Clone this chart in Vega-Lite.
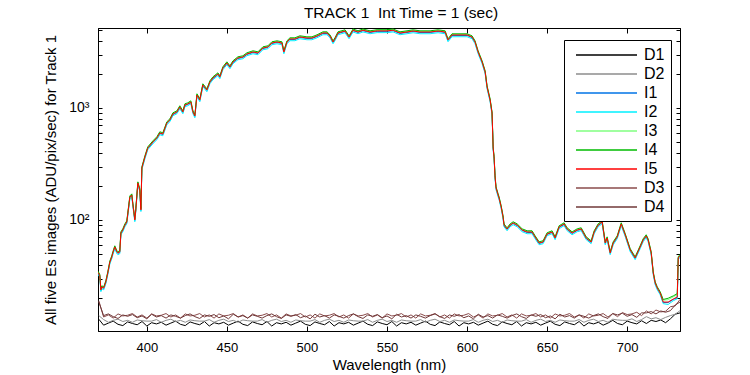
{
"$schema": "https://vega.github.io/schema/vega-lite/v6.json",
"width": 582, "height": 303,
"autosize": {"type": "none"},
"padding": {"left": 98, "top": 28, "right": 70, "bottom": 44},
"background": "white",
"title": {"text": "TRACK 1\u00a0 Int Time = 1 (sec)", "font": "Liberation Sans", "fontSize": 15.5, "fontWeight": "normal", "color": "black", "offset": 6, "dx": 12},
"config": {"view": {"stroke": "black", "strokeWidth": 1}, "font": "Liberation Sans"},
"datasets": {
"dark": [
{"w":370,"D1":13.0,"D2":14.0,"D3":19.0,"D4":18.5},
{"w":373,"D1":11.5,"D2":12.9,"D3":13.6,"D4":14.0},
{"w":376,"D1":12.0,"D2":12.2,"D3":14.2,"D4":14.5},
{"w":379,"D1":12.5,"D2":12.7,"D3":13.3,"D4":13.7},
{"w":382,"D1":11.7,"D2":13.0,"D3":14.5,"D4":13.2},
{"w":385,"D1":11.4,"D2":12.4,"D3":13.9,"D4":14.2},
{"w":388,"D1":12.3,"D2":12.7,"D3":14.1,"D4":13.8},
{"w":391,"D1":11.9,"D2":12.2,"D3":14.6,"D4":14.3},
{"w":394,"D1":11.6,"D2":12.8,"D3":13.6,"D4":13.4},
{"w":397,"D1":12.4,"D2":12.6,"D3":14.2,"D4":13.9},
{"w":400,"D1":11.3,"D2":12.5,"D3":13.3,"D4":13.1},
{"w":403,"D1":12.1,"D2":12.5,"D3":14.5,"D4":14.4},
{"w":406,"D1":11.8,"D2":12.9,"D3":13.9,"D4":13.6},
{"w":409,"D1":12.2,"D2":12.2,"D3":14.1,"D4":14.0},
{"w":412,"D1":11.5,"D2":12.7,"D3":14.6,"D4":13.3},
{"w":415,"D1":12.0,"D2":13.0,"D3":13.6,"D4":14.2},
{"w":418,"D1":12.5,"D2":12.4,"D3":14.2,"D4":13.8},
{"w":421,"D1":11.7,"D2":12.7,"D3":13.3,"D4":13.3},
{"w":424,"D1":11.4,"D2":12.2,"D3":14.5,"D4":14.0},
{"w":427,"D1":12.3,"D2":12.8,"D3":13.9,"D4":14.5},
{"w":430,"D1":11.9,"D2":12.6,"D3":14.1,"D4":13.7},
{"w":433,"D1":11.6,"D2":12.5,"D3":14.6,"D4":13.2},
{"w":436,"D1":12.4,"D2":12.5,"D3":13.6,"D4":14.2},
{"w":439,"D1":11.3,"D2":12.9,"D3":14.2,"D4":13.8},
{"w":442,"D1":12.1,"D2":12.2,"D3":13.3,"D4":14.3},
{"w":445,"D1":11.8,"D2":12.7,"D3":14.5,"D4":13.4},
{"w":448,"D1":12.2,"D2":13.0,"D3":13.9,"D4":13.9},
{"w":451,"D1":11.5,"D2":12.4,"D3":14.1,"D4":13.1},
{"w":454,"D1":12.0,"D2":12.7,"D3":14.6,"D4":14.4},
{"w":457,"D1":12.5,"D2":12.2,"D3":13.6,"D4":13.6},
{"w":460,"D1":11.7,"D2":12.8,"D3":14.2,"D4":14.0},
{"w":463,"D1":11.4,"D2":12.6,"D3":13.3,"D4":13.3},
{"w":466,"D1":12.3,"D2":12.5,"D3":14.5,"D4":14.2},
{"w":469,"D1":11.9,"D2":12.5,"D3":13.9,"D4":13.8},
{"w":472,"D1":11.6,"D2":12.9,"D3":14.1,"D4":13.3},
{"w":475,"D1":12.4,"D2":12.2,"D3":14.6,"D4":14.0},
{"w":478,"D1":11.3,"D2":12.7,"D3":13.6,"D4":14.5},
{"w":481,"D1":12.1,"D2":13.0,"D3":14.2,"D4":13.7},
{"w":484,"D1":11.8,"D2":12.4,"D3":13.3,"D4":13.2},
{"w":487,"D1":12.2,"D2":12.7,"D3":14.5,"D4":14.2},
{"w":490,"D1":11.5,"D2":12.2,"D3":13.9,"D4":13.8},
{"w":493,"D1":12.0,"D2":12.8,"D3":14.1,"D4":14.3},
{"w":496,"D1":12.5,"D2":12.6,"D3":14.6,"D4":13.4},
{"w":499,"D1":11.7,"D2":12.5,"D3":13.6,"D4":13.9},
{"w":502,"D1":11.4,"D2":12.5,"D3":14.2,"D4":13.1},
{"w":505,"D1":12.3,"D2":12.9,"D3":13.3,"D4":14.4},
{"w":508,"D1":11.9,"D2":12.2,"D3":14.5,"D4":13.6},
{"w":511,"D1":11.6,"D2":12.7,"D3":13.9,"D4":14.0},
{"w":514,"D1":12.4,"D2":13.0,"D3":14.1,"D4":13.3},
{"w":517,"D1":11.3,"D2":12.4,"D3":14.6,"D4":14.2},
{"w":520,"D1":12.1,"D2":12.7,"D3":13.6,"D4":13.8},
{"w":523,"D1":11.8,"D2":12.2,"D3":14.2,"D4":13.3},
{"w":526,"D1":12.2,"D2":12.8,"D3":13.3,"D4":14.0},
{"w":529,"D1":11.5,"D2":12.6,"D3":14.5,"D4":14.5},
{"w":532,"D1":12.0,"D2":12.5,"D3":13.9,"D4":13.7},
{"w":535,"D1":12.5,"D2":12.5,"D3":14.1,"D4":13.2},
{"w":538,"D1":11.7,"D2":12.9,"D3":14.6,"D4":14.2},
{"w":541,"D1":11.4,"D2":12.2,"D3":13.6,"D4":13.8},
{"w":544,"D1":12.3,"D2":12.7,"D3":14.2,"D4":14.3},
{"w":547,"D1":11.9,"D2":13.0,"D3":13.3,"D4":13.4},
{"w":550,"D1":11.6,"D2":12.4,"D3":14.5,"D4":13.9},
{"w":553,"D1":12.4,"D2":12.7,"D3":13.9,"D4":13.1},
{"w":556,"D1":11.3,"D2":12.2,"D3":14.1,"D4":14.4},
{"w":559,"D1":12.1,"D2":12.8,"D3":14.6,"D4":13.6},
{"w":562,"D1":11.8,"D2":12.6,"D3":13.6,"D4":14.0},
{"w":565,"D1":12.2,"D2":12.5,"D3":14.2,"D4":13.3},
{"w":568,"D1":11.5,"D2":12.5,"D3":13.3,"D4":14.2},
{"w":571,"D1":12.0,"D2":12.9,"D3":14.5,"D4":13.8},
{"w":574,"D1":12.5,"D2":12.2,"D3":13.9,"D4":13.3},
{"w":577,"D1":11.7,"D2":12.7,"D3":14.1,"D4":14.0},
{"w":580,"D1":11.4,"D2":13.0,"D3":14.6,"D4":14.5},
{"w":583,"D1":12.3,"D2":12.4,"D3":13.6,"D4":13.7},
{"w":586,"D1":11.9,"D2":12.7,"D3":14.2,"D4":13.2},
{"w":589,"D1":11.6,"D2":12.2,"D3":13.3,"D4":14.2},
{"w":592,"D1":12.4,"D2":12.8,"D3":14.5,"D4":13.8},
{"w":595,"D1":11.3,"D2":12.6,"D3":13.9,"D4":14.3},
{"w":598,"D1":12.1,"D2":12.5,"D3":14.1,"D4":13.4},
{"w":601,"D1":11.8,"D2":12.5,"D3":14.6,"D4":13.9},
{"w":604,"D1":12.2,"D2":12.9,"D3":13.6,"D4":13.1},
{"w":607,"D1":11.5,"D2":12.2,"D3":14.2,"D4":14.4},
{"w":610,"D1":12.0,"D2":12.7,"D3":13.3,"D4":13.6},
{"w":613,"D1":12.5,"D2":13.0,"D3":14.5,"D4":14.0},
{"w":616,"D1":11.7,"D2":12.4,"D3":13.9,"D4":13.3},
{"w":619,"D1":11.4,"D2":12.7,"D3":14.1,"D4":14.2},
{"w":622,"D1":12.3,"D2":12.2,"D3":14.6,"D4":13.8},
{"w":625,"D1":11.9,"D2":12.8,"D3":13.6,"D4":13.3},
{"w":628,"D1":11.6,"D2":12.6,"D3":14.2,"D4":14.0},
{"w":631,"D1":12.4,"D2":12.5,"D3":13.3,"D4":14.5},
{"w":634,"D1":11.3,"D2":12.5,"D3":14.5,"D4":13.7},
{"w":637,"D1":12.1,"D2":12.9,"D3":13.9,"D4":13.2},
{"w":640,"D1":11.8,"D2":12.2,"D3":14.1,"D4":14.2},
{"w":643,"D1":12.2,"D2":12.7,"D3":14.6,"D4":13.8},
{"w":646,"D1":11.5,"D2":13.0,"D3":13.6,"D4":14.3},
{"w":649,"D1":12.0,"D2":12.4,"D3":14.2,"D4":13.4},
{"w":652,"D1":12.5,"D2":12.7,"D3":13.3,"D4":13.9},
{"w":655,"D1":11.7,"D2":12.2,"D3":14.5,"D4":13.1},
{"w":658,"D1":11.4,"D2":12.8,"D3":13.9,"D4":14.4},
{"w":661,"D1":12.3,"D2":12.6,"D3":14.1,"D4":13.6},
{"w":664,"D1":11.9,"D2":12.5,"D3":14.6,"D4":14.0},
{"w":667,"D1":11.6,"D2":12.5,"D3":13.6,"D4":13.3},
{"w":670,"D1":12.4,"D2":12.9,"D3":14.2,"D4":14.2},
{"w":673,"D1":11.3,"D2":12.2,"D3":13.3,"D4":13.8},
{"w":676,"D1":12.1,"D2":12.7,"D3":14.5,"D4":13.3},
{"w":679,"D1":11.8,"D2":13.0,"D3":13.9,"D4":14.0},
{"w":682,"D1":12.2,"D2":12.4,"D3":14.1,"D4":14.5},
{"w":685,"D1":11.5,"D2":12.7,"D3":14.6,"D4":13.7},
{"w":688,"D1":12.0,"D2":12.2,"D3":13.6,"D4":13.2},
{"w":691,"D1":12.7,"D2":13.0,"D3":14.6,"D4":14.6},
{"w":694,"D1":11.9,"D2":12.8,"D3":13.7,"D4":14.2},
{"w":697,"D1":11.6,"D2":12.7,"D3":14.9,"D4":14.7},
{"w":700,"D1":12.5,"D2":12.7,"D3":14.3,"D4":13.8},
{"w":703,"D1":12.1,"D2":13.1,"D3":14.5,"D4":14.3},
{"w":706,"D1":11.8,"D2":12.4,"D3":15.0,"D4":13.5},
{"w":709,"D1":12.6,"D2":12.9,"D3":14.0,"D4":14.8},
{"w":712,"D1":11.9,"D2":13.7,"D3":15.4,"D4":14.8},
{"w":715,"D1":12.7,"D2":13.1,"D3":14.5,"D4":15.2},
{"w":718,"D1":12.4,"D2":13.4,"D3":15.7,"D4":14.5},
{"w":721,"D1":12.8,"D2":12.9,"D3":15.1,"D4":15.4},
{"w":724,"D1":12.1,"D2":13.5,"D3":15.3,"D4":15.0},
{"w":727,"D1":13.1,"D2":14.0,"D3":16.8,"D4":15.5},
{"w":730,"D1":14.4,"D2":14.4,"D3":17.1,"D4":17.4},
{"w":733,"D1":14.8,"D2":15.5,"D3":19.5,"D4":18.5}
],
"sig": [
{"w":369.5,"I1":33.7,"I2":32.8,"I3":34.3,"I4":34.9,"I5":34},
{"w":370.6,"I1":31.7,"I2":30.9,"I3":32.3,"I4":32.8,"I5":32},
{"w":371.3,"I1":23.5,"I2":22.9,"I3":23.9,"I4":24.3,"I5":23.7},
{"w":371.9,"I1":24.9,"I2":24.3,"I3":25.5,"I4":25.8,"I5":25.2},
{"w":373.1,"I1":24.5,"I2":23.8,"I3":24.9,"I4":25.3,"I5":24.7},
{"w":374.4,"I1":27.7,"I2":27.0,"I3":28.3,"I4":28.7,"I5":28},
{"w":375.6,"I1":33.3,"I2":32.4,"I3":33.9,"I4":34.4,"I5":33.6},
{"w":376.9,"I1":41.6,"I2":40.5,"I3":42.4,"I4":43.0,"I5":42},
{"w":378.1,"I1":46.2,"I2":45.1,"I3":47.2,"I4":47.9,"I5":46.7},
{"w":378.8,"I1":50.3,"I2":49.0,"I3":51.3,"I4":52.1,"I5":50.8},
{"w":380.0,"I1":56.8,"I2":55.4,"I3":58.0,"I4":58.8,"I5":57.4},
{"w":381.3,"I1":51.3,"I2":50.0,"I3":52.3,"I4":53.1,"I5":51.8},
{"w":381.9,"I1":50.3,"I2":49.0,"I3":51.3,"I4":52.1,"I5":50.8},
{"w":383.1,"I1":51.3,"I2":50.0,"I3":52.3,"I4":53.1,"I5":51.8},
{"w":383.8,"I1":75.7,"I2":73.8,"I3":77.3,"I4":78.4,"I5":76.5},
{"w":385.0,"I1":80.6,"I2":78.6,"I3":82.2,"I4":83.4,"I5":81.4},
{"w":386.3,"I1":89.1,"I2":86.9,"I3":90.9,"I4":92.3,"I5":90},
{"w":387.5,"I1":95.0,"I2":92.6,"I3":97.0,"I4":98.4,"I5":96},
{"w":389.4,"I1":158,"I2":154,"I3":162,"I4":164,"I5":160},
{"w":390.6,"I1":165,"I2":161,"I3":169,"I4":171,"I5":167},
{"w":391.3,"I1":136,"I2":132,"I3":138,"I4":140,"I5":137},
{"w":392.5,"I1":99,"I2":96.5,"I3":101,"I4":102.5,"I5":100},
{"w":393.1,"I1":122,"I2":119,"I3":124,"I4":126,"I5":123},
{"w":394.4,"I1":212,"I2":207,"I3":216,"I4":219,"I5":214},
{"w":395.6,"I1":183,"I2":179,"I3":187,"I4":190,"I5":185},
{"w":396.3,"I1":122,"I2":119,"I3":124,"I4":126,"I5":123},
{"w":396.9,"I1":288,"I2":281,"I3":294,"I4":298,"I5":291},
{"w":398.8,"I1":361,"I2":352,"I3":369,"I4":374,"I5":365},
{"w":400.6,"I1":435,"I2":424,"I3":443,"I4":450,"I5":439},
{"w":403.8,"I1":492,"I2":480,"I3":502,"I4":509,"I5":497},
{"w":406.3,"I1":535,"I2":521,"I3":545,"I4":554,"I5":540},
{"w":408.1,"I1":592,"I2":577,"I3":604,"I4":613,"I5":598},
{"w":410.0,"I1":580,"I2":565,"I3":592,"I4":601,"I5":586},
{"w":412.5,"I1":728,"I2":709,"I3":742,"I4":753,"I5":735},
{"w":414.4,"I1":773,"I2":754,"I3":789,"I4":801,"I5":781},
{"w":416.3,"I1":875,"I2":853,"I3":893,"I4":906,"I5":884},
{"w":418.8,"I1":912,"I2":889,"I3":930,"I4":944,"I5":921},
{"w":420.6,"I1":1011,"I2":985,"I3":1031,"I4":1047,"I5":1021},
{"w":422.5,"I1":912,"I2":889,"I3":930,"I4":944,"I5":921},
{"w":423.8,"I1":1053,"I2":1027,"I3":1075,"I4":1091,"I5":1064},
{"w":425.6,"I1":1075,"I2":1048,"I3":1097,"I4":1113,"I5":1086},
{"w":427.5,"I1":1120,"I2":1091,"I3":1142,"I4":1159,"I5":1131},
{"w":428.8,"I1":912,"I2":889,"I3":930,"I4":944,"I5":921},
{"w":430.0,"I1":840,"I2":818,"I3":856,"I4":869,"I5":848},
{"w":431.3,"I1":1293,"I2":1260,"I3":1319,"I4":1339,"I5":1306},
{"w":433.1,"I1":1167,"I2":1138,"I3":1191,"I4":1208,"I5":1179},
{"w":435.0,"I1":1589,"I2":1549,"I3":1621,"I4":1645,"I5":1605},
{"w":437.5,"I1":1434,"I2":1397,"I3":1462,"I4":1484,"I5":1448},
{"w":439.4,"I1":1690,"I2":1647,"I3":1724,"I4":1750,"I5":1707},
{"w":441.3,"I1":1834,"I2":1788,"I3":1872,"I4":1899,"I5":1853},
{"w":444.4,"I1":1992,"I2":1942,"I3":2032,"I4":2062,"I5":2012},
{"w":445.6,"I1":1873,"I2":1826,"I3":1911,"I4":1939,"I5":1892},
{"w":447.5,"I1":2253,"I2":2196,"I3":2299,"I4":2333,"I5":2276},
{"w":450.0,"I1":2497,"I2":2434,"I3":2547,"I4":2585,"I5":2522},
{"w":451.9,"I1":2300,"I2":2242,"I3":2346,"I4":2381,"I5":2323},
{"w":453.8,"I1":2549,"I2":2485,"I3":2601,"I4":2639,"I5":2575},
{"w":456.9,"I1":2768,"I2":2698,"I3":2824,"I4":2866,"I5":2796},
{"w":460.0,"I1":2825,"I2":2754,"I3":2883,"I4":2925,"I5":2854},
{"w":462.5,"I1":3005,"I2":2929,"I3":3065,"I4":3111,"I5":3035},
{"w":466.3,"I1":3130,"I2":3051,"I3":3194,"I4":3241,"I5":3162},
{"w":469.4,"I1":3067,"I2":2990,"I3":3129,"I4":3175,"I5":3098},
{"w":472.5,"I1":3399,"I2":3313,"I3":3467,"I4":3519,"I5":3433},
{"w":475.6,"I1":3469,"I2":3381,"I3":3539,"I4":3592,"I5":3504},
{"w":478.1,"I1":3767,"I2":3672,"I3":3843,"I4":3900,"I5":3805},
{"w":481.3,"I1":3845,"I2":3748,"I3":3923,"I4":3981,"I5":3884},
{"w":484.4,"I1":3767,"I2":3672,"I3":3843,"I4":3900,"I5":3805},
{"w":485.6,"I1":3130,"I2":3051,"I3":3194,"I4":3241,"I5":3162},
{"w":487.5,"I1":3845,"I2":3748,"I3":3923,"I4":3981,"I5":3884},
{"w":489.4,"I1":4091,"I2":3987,"I3":4173,"I4":4235,"I5":4132},
{"w":492.5,"I1":4091,"I2":3987,"I3":4173,"I4":4235,"I5":4132},
{"w":495.6,"I1":4262,"I2":4154,"I3":4348,"I4":4413,"I5":4305},
{"w":500.0,"I1":4175,"I2":4069,"I3":4259,"I4":4322,"I5":4217},
{"w":503.1,"I1":4175,"I2":4069,"I3":4259,"I4":4322,"I5":4217},
{"w":506.3,"I1":4350,"I2":4240,"I3":4438,"I4":4504,"I5":4394},
{"w":510.0,"I1":4627,"I2":4510,"I3":4721,"I4":4791,"I5":4674},
{"w":512.5,"I1":4627,"I2":4510,"I3":4721,"I4":4791,"I5":4674},
{"w":514.4,"I1":4350,"I2":4240,"I3":4438,"I4":4504,"I5":4394},
{"w":516.3,"I1":3845,"I2":3748,"I3":3923,"I4":3981,"I5":3884},
{"w":517.5,"I1":4091,"I2":3987,"I3":4173,"I4":4235,"I5":4132},
{"w":519.4,"I1":4627,"I2":4510,"I3":4721,"I4":4791,"I5":4674},
{"w":523.8,"I1":4821,"I2":4700,"I3":4919,"I4":4992,"I5":4870},
{"w":526.3,"I1":4262,"I2":4154,"I3":4348,"I4":4413,"I5":4305},
{"w":528.8,"I1":4900,"I2":4777,"I3":5000,"I4":5074,"I5":4950},
{"w":531.9,"I1":4723,"I2":4604,"I3":4819,"I4":4890,"I5":4771},
{"w":535.0,"I1":4900,"I2":4777,"I3":5000,"I4":5074,"I5":4950},
{"w":539.4,"I1":4723,"I2":4604,"I3":4819,"I4":4890,"I5":4771},
{"w":543.8,"I1":4831,"I2":4709,"I3":4929,"I4":5002,"I5":4880},
{"w":550.0,"I1":4831,"I2":4709,"I3":4929,"I4":5002,"I5":4880},
{"w":553.8,"I1":4900,"I2":4777,"I3":5000,"I4":5074,"I5":4950},
{"w":558.1,"I1":4627,"I2":4510,"I3":4721,"I4":4791,"I5":4674},
{"w":562.5,"I1":4723,"I2":4604,"I3":4819,"I4":4890,"I5":4771},
{"w":566.3,"I1":4821,"I2":4700,"I3":4919,"I4":4992,"I5":4870},
{"w":570.6,"I1":4723,"I2":4604,"I3":4819,"I4":4890,"I5":4771},
{"w":576.9,"I1":4723,"I2":4604,"I3":4819,"I4":4890,"I5":4771},
{"w":581.9,"I1":4821,"I2":4700,"I3":4919,"I4":4992,"I5":4870},
{"w":586.3,"I1":4723,"I2":4604,"I3":4819,"I4":4890,"I5":4771},
{"w":588.1,"I1":4008,"I2":3906,"I3":4088,"I4":4149,"I5":4048},
{"w":590.6,"I1":4441,"I2":4329,"I3":4531,"I4":4598,"I5":4486},
{"w":595.6,"I1":4441,"I2":4329,"I3":4531,"I4":4598,"I5":4486},
{"w":600.0,"I1":4441,"I2":4329,"I3":4531,"I4":4598,"I5":4486},
{"w":603.1,"I1":4262,"I2":4154,"I3":4348,"I4":4413,"I5":4305},
{"w":605.0,"I1":3845,"I2":3748,"I3":3923,"I4":3981,"I5":3884},
{"w":606.9,"I1":3130,"I2":3051,"I3":3194,"I4":3241,"I5":3162},
{"w":609.4,"I1":2549,"I2":2485,"I3":2601,"I4":2639,"I5":2575},
{"w":611.3,"I1":2075,"I2":2023,"I3":2117,"I4":2148,"I5":2096},
{"w":612.5,"I1":1525,"I2":1486,"I3":1555,"I4":1579,"I5":1540},
{"w":614.4,"I1":1167,"I2":1138,"I3":1191,"I4":1208,"I5":1179},
{"w":615.6,"I1":893,"I2":870,"I3":911,"I4":925,"I5":902},
{"w":616.0,"I1":604,"I2":589,"I3":616,"I4":625,"I5":610},
{"w":616.3,"I1":435,"I2":424,"I3":443,"I4":450,"I5":439},
{"w":616.9,"I1":354,"I2":345,"I3":362,"I4":367,"I5":358},
{"w":617.5,"I1":240,"I2":234,"I3":244,"I4":248,"I5":242},
{"w":618.1,"I1":191,"I2":186,"I3":195,"I4":198,"I5":193},
{"w":619.4,"I1":165,"I2":161,"I3":169,"I4":171,"I5":167},
{"w":620.0,"I1":155,"I2":152,"I3":159,"I4":161,"I5":157},
{"w":621.3,"I1":130,"I2":126,"I3":132,"I4":134,"I5":131},
{"w":622.5,"I1":105,"I2":102,"I3":107,"I4":109,"I5":106},
{"w":623.1,"I1":89.1,"I2":86.9,"I3":90.9,"I4":92.3,"I5":90},
{"w":625.0,"I1":82.2,"I2":80.1,"I3":83.8,"I4":85.1,"I5":83},
{"w":626.9,"I1":89.1,"I2":86.9,"I3":90.9,"I4":92.3,"I5":90},
{"w":628.8,"I1":93.1,"I2":90.7,"I3":94.9,"I4":96.4,"I5":94},
{"w":631.3,"I1":89.1,"I2":86.9,"I3":90.9,"I4":92.3,"I5":90},
{"w":634.4,"I1":80.6,"I2":78.6,"I3":82.2,"I4":83.4,"I5":81.4},
{"w":637.5,"I1":77.3,"I2":75.4,"I3":78.9,"I4":80.1,"I5":78.1},
{"w":640.6,"I1":77.3,"I2":75.4,"I3":78.9,"I4":80.1,"I5":78.1},
{"w":642.5,"I1":69.8,"I2":68.0,"I3":71.2,"I4":72.3,"I5":70.5},
{"w":645.0,"I1":61.7,"I2":60.1,"I3":62.9,"I4":63.9,"I5":62.3},
{"w":647.5,"I1":63.0,"I2":61.4,"I3":64.2,"I4":65.2,"I5":63.6},
{"w":650.0,"I1":74.3,"I2":72.4,"I3":75.8,"I4":76.9,"I5":75},
{"w":653.1,"I1":77.3,"I2":75.4,"I3":78.9,"I4":80.1,"I5":78.1},
{"w":655.0,"I1":68.4,"I2":66.7,"I3":69.8,"I4":70.8,"I5":69.1},
{"w":657.5,"I1":85.7,"I2":83.6,"I3":87.5,"I4":88.8,"I5":86.6},
{"w":660.6,"I1":91.2,"I2":88.9,"I3":93.0,"I4":94.4,"I5":92.1},
{"w":662.5,"I1":82.3,"I2":80.2,"I3":83.9,"I4":85.2,"I5":83.1},
{"w":665.6,"I1":75.7,"I2":73.8,"I3":77.3,"I4":78.4,"I5":76.5},
{"w":668.8,"I1":80.6,"I2":78.6,"I3":82.2,"I4":83.4,"I5":81.4},
{"w":671.3,"I1":82.3,"I2":80.2,"I3":83.9,"I4":85.2,"I5":83.1},
{"w":674.4,"I1":68.4,"I2":66.7,"I3":69.8,"I4":70.8,"I5":69.1},
{"w":677.5,"I1":63.0,"I2":61.4,"I3":64.2,"I4":65.2,"I5":63.6},
{"w":679.4,"I1":77.3,"I2":75.4,"I3":78.9,"I4":80.1,"I5":78.1},
{"w":681.9,"I1":89.3,"I2":87.0,"I3":91.1,"I4":92.5,"I5":90.2},
{"w":684.4,"I1":94.9,"I2":92.5,"I3":96.9,"I4":98.3,"I5":95.9},
{"w":686.3,"I1":61.7,"I2":60.1,"I3":62.9,"I4":63.9,"I5":62.3},
{"w":687.5,"I1":68.3,"I2":66.6,"I3":69.7,"I4":70.7,"I5":69},
{"w":689.4,"I1":50.3,"I2":49.0,"I3":51.3,"I4":52.1,"I5":50.8},
{"w":691.3,"I1":61.7,"I2":60.1,"I3":62.9,"I4":63.9,"I5":62.3},
{"w":693.8,"I1":69.8,"I2":68.0,"I3":71.2,"I4":72.3,"I5":70.5},
{"w":696.3,"I1":91.2,"I2":88.9,"I3":93.0,"I4":94.4,"I5":92.1},
{"w":698.8,"I1":72.8,"I2":70.9,"I3":74.2,"I4":75.3,"I5":73.5},
{"w":701.9,"I1":53.5,"I2":52.1,"I3":54.5,"I4":55.4,"I5":54},
{"w":705.0,"I1":45.3,"I2":44.2,"I3":46.3,"I4":46.9,"I5":45.8},
{"w":708.1,"I1":56.8,"I2":55.4,"I3":58.0,"I4":58.8,"I5":57.4},
{"w":710.0,"I1":65.6,"I2":64.0,"I3":67.0,"I4":68.0,"I5":66.3},
{"w":711.9,"I1":71.3,"I2":69.5,"I3":72.7,"I4":73.8,"I5":72},
{"w":713.1,"I1":65.6,"I2":64.0,"I3":67.0,"I4":68.0,"I5":66.3},
{"w":715.0,"I1":50.3,"I2":49.0,"I3":51.3,"I4":52.1,"I5":50.8},
{"w":716.3,"I1":33.3,"I2":32.4,"I3":33.9,"I4":34.4,"I5":33.6},
{"w":717.5,"I1":27.1,"I2":26.4,"I3":27.7,"I4":28.1,"I5":27.4},
{"w":718.8,"I1":24.5,"I2":23.8,"I3":24.9,"I4":25.3,"I5":24.7},
{"w":720.6,"I1":22.1,"I2":21.5,"I3":22.5,"I4":22.9,"I5":22.3},
{"w":722.5,"I1":18.3,"I2":17.9,"I3":19.2,"I4":19.5,"I5":18.5},
{"w":725.6,"I1":18.3,"I2":17.6,"I3":19.4,"I4":20.0,"I5":18.5},
{"w":728.8,"I1":19.5,"I2":19.0,"I3":20.6,"I4":21.0,"I5":19.7},
{"w":731.3,"I1":20.3,"I2":19.8,"I3":21.5,"I4":22.0,"I5":20.5},
{"w":731.9,"I1":45.3,"I2":44.2,"I3":46.3,"I4":46.9,"I5":45.8},
{"w":733.0,"I1":47.5,"I2":46.3,"I3":48.5,"I4":49.2,"I5":48}
]
},
"layer": [
{
"data": {"name": "dark"},
"transform": [{"fold": ["D1", "D2", "D3", "D4"], "as": ["series", "value"]}],
"mark": {"type": "line", "strokeWidth": 1, "clip": true},
"encoding": {
"x": {"field": "w", "type": "quantitative", "scale": {"domain": [369.5, 733], "nice": false, "zero": false},
"axis": {"orient": "bottom", "values": [400, 450, 500, 550, 600, 650, 700], "tickSize": -5, "tickColor": "black", "domainColor": "black", "labelFont": "Liberation Sans", "labelFontSize": 13, "labelColor": "black", "labelPadding": 15, "labelFlush": false, "title": "Wavelength (nm)", "titleFont": "Liberation Sans", "titleFontSize": 15, "titleFontWeight": "normal", "titleColor": "black", "titlePadding": 3, "grid": false}},
"y": {"field": "value", "type": "quantitative", "scale": {"type": "log", "domain": [10.2, 5180], "nice": false},
"axis": {"orient": "left", "values": [20, 30, 40, 50, 60, 70, 80, 90, 100, 200, 300, 400, 500, 600, 700, 800, 900, 1000, 2000, 3000, 4000, 5000], "labelExpr": "datum.value == 100 ? '10²' : (datum.value == 1000 ? '10³' : '')", "tickSize": -4, "tickColor": "black", "domainColor": "black", "labelFont": "Liberation Sans", "labelFontSize": 14, "labelColor": "black", "labelPadding": 13, "title": "All five Es images (ADU/pix/sec) for Track 1", "titleFont": "Liberation Sans", "titleFontSize": 15, "titleFontWeight": "normal", "titleColor": "black", "titlePadding": 10, "grid": false}},
"color": {"field": "series", "type": "nominal",
"scale": {"domain": ["D1", "D2", "I1", "I2", "I3", "I4", "I5", "D3", "D4"], "range": ["#000000", "#8c8c8c", "#0073e6", "#00f0ff", "#80ff80", "#00bb00", "#ff0000", "#8a4b4b", "#703838"]},
"legend": {"orient": "none", "legendX": 466, "legendY": 12, "title": null, "symbolType": "M-0.375,0H7.25", "symbolSize": 256, "symbolStrokeWidth": 1.5, "rowPadding": 2, "labelFont": "Liberation Sans", "labelFontSize": 16, "labelColor": "black", "labelOffset": 56, "strokeColor": "black", "fillColor": "white", "padding": 6, "direction": "vertical"}}
}
},
{
"data": {"name": "sig"},
"transform": [{"fold": ["I1", "I2", "I3", "I4", "I5"], "as": ["series", "value"]}],
"mark": {"type": "line", "strokeWidth": 1, "clip": true},
"encoding": {
"x": {"field": "w", "type": "quantitative", "axis": {"orient": "top", "values": [400, 450, 500, 550, 600, 650, 700], "tickSize": -5, "tickColor": "black", "domainColor": "black", "labels": false, "title": null, "grid": false}},
"y": {"field": "value", "type": "quantitative", "axis": {"orient": "right", "values": [20, 30, 40, 50, 60, 70, 80, 90, 100, 200, 300, 400, 500, 600, 700, 800, 900, 1000, 2000, 3000, 4000, 5000], "tickSize": -4, "tickColor": "black", "domainColor": "black", "labels": false, "title": null, "grid": false}},
"color": {"field": "series", "type": "nominal"}
}
}
],
"resolve": {"axis": {"x": "independent", "y": "independent"}}
}
